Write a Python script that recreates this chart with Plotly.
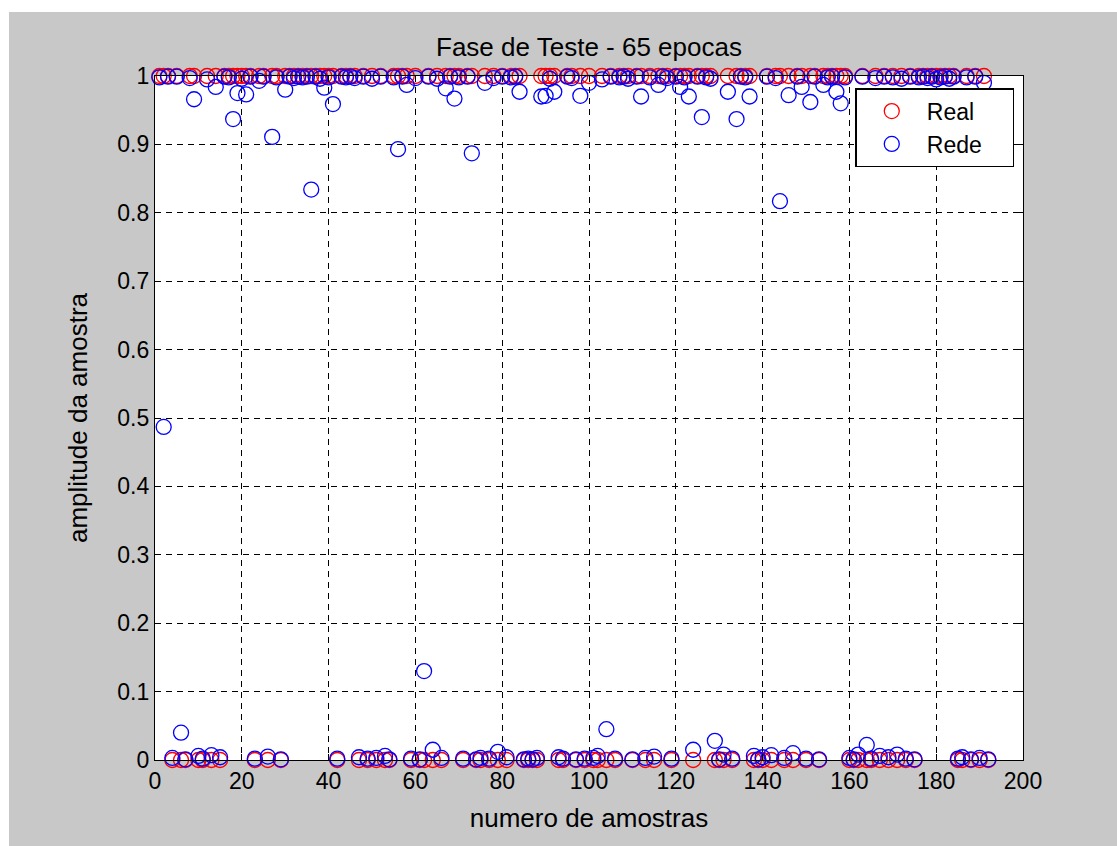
import plotly.graph_objects as go

# target output (Real) and network output (Rede) for each test sample
amostras = list(range(1, 193))

real = [
    1, 1, 1, 0, 1, 0, 0, 1, 1, 0, 0, 1, 0, 1, 0, 1, 1, 1, 1, 1,
    1, 1, 0, 1, 1, 0, 1, 1, 0, 1, 1, 1, 1, 1, 1, 1, 1, 1, 1, 1,
    1, 0, 1, 1, 1, 1, 0, 1, 0, 1, 0, 1, 0, 0, 1, 1, 1, 1, 0, 1,
    0, 0, 1, 0, 1, 0, 1, 1, 1, 1, 0, 1, 1, 0, 0, 1, 0, 1, 0, 1,
    0, 1, 1, 1, 0, 0, 0, 0, 1, 1, 1, 1, 0, 0, 1, 1, 0, 1, 0, 1,
    0, 0, 1, 0, 1, 0, 1, 1, 1, 0, 1, 1, 0, 1, 0, 1, 1, 1, 0, 1,
    1, 1, 1, 0, 1, 1, 1, 1, 0, 0, 0, 1, 0, 1, 1, 1, 1, 0, 0, 0,
    1, 0, 1, 1, 0, 1, 0, 1, 1, 0, 1, 1, 0, 1, 1, 1, 1, 1, 1, 0,
    0, 0, 1, 0, 0, 1, 0, 1, 0, 1, 0, 1, 0, 1, 0, 1, 1, 1, 1, 1,
    1, 1, 1, 1, 0, 0, 1, 0, 1, 0, 1, 0,
]

rede = [
    0.998, 0.487, 0.999, 0.003, 0.999, 0.040, 0.001, 0.997, 0.966, 0.006,
    0.002, 0.995, 0.007, 0.984, 0.004, 0.999, 0.998, 0.937, 0.975, 0.996,
    0.973, 0.999, 0.002, 0.993, 0.999, 0.005, 0.911, 0.998, 0.001, 0.980,
    0.999, 0.997, 0.999, 0.998, 0.999, 0.834, 0.999, 0.996, 0.983, 0.998,
    0.959, 0.002, 0.999, 0.998, 0.999, 0.997, 0.004, 0.999, 0.002, 0.996,
    0.003, 0.999, 0.006, 0.001, 0.998, 0.893, 0.999, 0.987, 0.002, 0.997,
    0.001, 0.130, 0.999, 0.015, 0.996, 0.003, 0.982, 0.999, 0.967, 0.998,
    0.002, 0.999, 0.887, 0.001, 0.003, 0.990, 0.002, 0.997, 0.012, 0.999,
    0.004, 0.998, 0.999, 0.977, 0.001, 0.002, 0.001, 0.003, 0.970, 0.971,
    0.996, 0.977, 0.004, 0.002, 0.999, 0.997, 0.001, 0.971, 0.002, 0.990,
    0.003, 0.006, 0.995, 0.045, 0.999, 0.002, 0.998, 0.999, 0.996, 0.001,
    0.999, 0.970, 0.003, 0.998, 0.005, 0.987, 0.999, 0.997, 0.002, 0.999,
    0.984, 0.998, 0.970, 0.015, 0.999, 0.940, 0.998, 0.996, 0.028, 0.001,
    0.008, 0.977, 0.002, 0.937, 0.999, 0.998, 0.970, 0.006, 0.001, 0.004,
    0.999, 0.007, 0.997, 0.817, 0.003, 0.972, 0.010, 0.999, 0.984, 0.002,
    0.962, 0.999, 0.001, 0.987, 0.998, 0.999, 0.977, 0.960, 0.998, 0.003,
    0.001, 0.008, 0.999, 0.022, 0.002, 0.997, 0.006, 0.999, 0.004, 0.998,
    0.008, 0.996, 0.002, 0.999, 0.001, 0.998, 0.999, 0.997, 0.999, 0.995,
    0.998, 0.999, 0.996, 0.999, 0.002, 0.004, 0.998, 0.001, 0.999, 0.003,
    0.990, 0.001,
]

x_ticks = [0, 20, 40, 60, 80, 100, 120, 140, 160, 180, 200]
y_ticks = [0, 0.1, 0.2, 0.3, 0.4, 0.5, 0.6, 0.7, 0.8, 0.9, 1]
y_tick_text = ["0", "0.1", "0.2", "0.3", "0.4", "0.5", "0.6", "0.7", "0.8", "0.9", "1"]

FONT = "Liberation Sans, Arial, sans-serif"
GREY = "#c8c8c8"
TEXT_SIZE = 26
TICK_SIZE = 23
LEGEND_SIZE = 23

fig = go.Figure()
fig.add_trace(go.Scatter(
    x=amostras, y=real, mode="markers", name="Real\u00a0\u00a0\u00a0\u00a0",
    marker=dict(symbol="circle-open", size=15, color="#ff0000", line=dict(width=1.3)),
    cliponaxis=False, legendgroup="a",
))
fig.add_trace(go.Scatter(
    x=amostras, y=rede, mode="markers", name="Rede\u00a0\u00a0\u00a0\u00a0",
    marker=dict(symbol="circle-open", size=15, color="#0000ff", line=dict(width=1.3)),
    cliponaxis=False, legendgroup="b",
))

axis_common = dict(
    showline=True, linecolor="black", linewidth=1.3, mirror="ticks",
    ticks="inside", ticklen=6, tickcolor="black",
    showgrid=True, gridcolor="black", gridwidth=1, griddash="6px,5px",
    zeroline=False, tickfont=dict(family=FONT, size=TICK_SIZE, color="black"),
)

fig.update_xaxes(range=[0, 200], tickvals=x_ticks, **axis_common,
                 title=dict(text="numero de amostras",
                            font=dict(family=FONT, size=TEXT_SIZE, color="black"), standoff=16))
fig.update_yaxes(range=[0, 1], tickvals=y_ticks, ticktext=y_tick_text, **axis_common,
                 title=dict(text="amplitude da amostra",
                            font=dict(family=FONT, size=TEXT_SIZE, color="black"), standoff=22))

fig.update_layout(
    width=1117, height=846,
    margin=dict(l=155, r=94, t=76, b=86),
    paper_bgcolor=GREY, plot_bgcolor="white",
    title=dict(text="Fase de Teste - 65 epocas", x=0.500, xanchor="center", y=0.944, yanchor="middle",
               xref="paper", font=dict(family=FONT, size=TEXT_SIZE, color="black")),
    showlegend=True,
    legend=dict(x=0.807, y=0.982, xanchor="left", yanchor="top",
                bgcolor="white", bordercolor="black", borderwidth=1.3,
                font=dict(family=FONT, size=LEGEND_SIZE, color="black"),
                itemwidth=60, tracegroupgap=0, traceorder="grouped"),
    shapes=[
        # white strips along the top and left edges of the canvas
        dict(type="rect", xref="paper", yref="paper", x0=-0.2, x1=1.2, y0=(760 - 12) / 684, y1=1.2,
             fillcolor="white", line=dict(width=0), layer="below"),
        dict(type="rect", xref="paper", yref="paper", x0=-0.2, x1=(9 - 155) / 868, y0=-0.2, y1=1.2,
             fillcolor="white", line=dict(width=0), layer="below"),
    ],
)

fig.write_html("out.html")
